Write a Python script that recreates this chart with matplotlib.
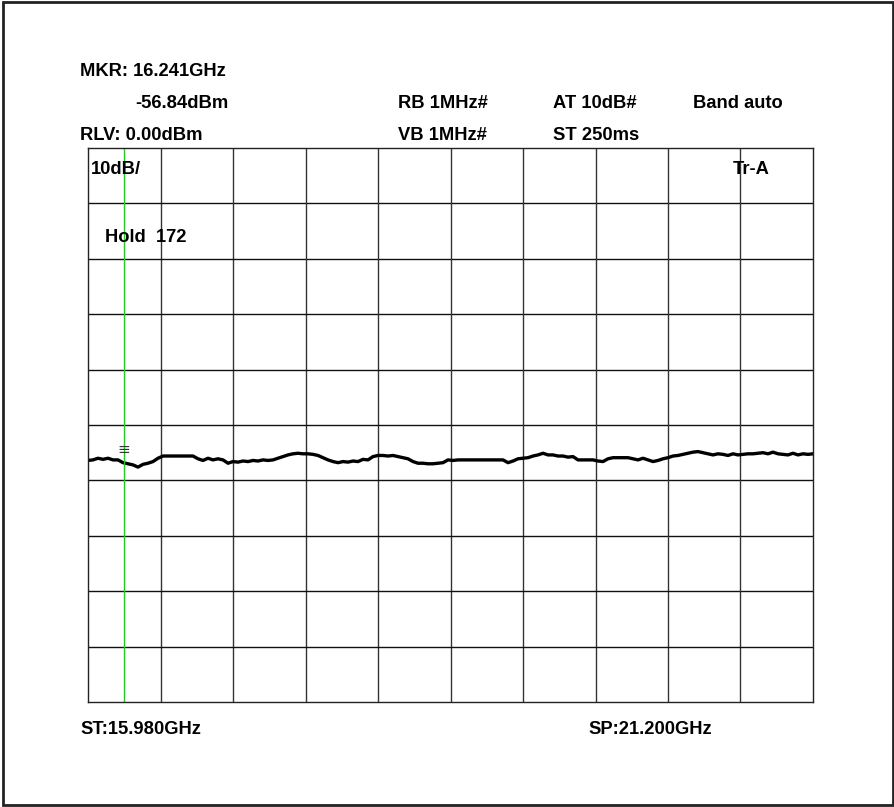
import numpy as np
import matplotlib
matplotlib.use("Agg")
import matplotlib.pyplot as plt
from matplotlib.patches import Rectangle

plt.rcParams['font.family'] = ['Liberation Sans', 'DejaVu Sans']

# sweep settings
f_start = 15.980   # GHz
f_stop = 21.200    # GHz
ref_level = 0.0    # dBm
db_per_div = 10
marker_freq = 16.241
marker_level = -56.84

# trace levels (dBm), read left to right across the sweep
level = [
    -56.4, -56.3, -56.0, -56.2, -56.0, -56.3, -56.3, -56.8, -57.0, -57.2,
    -57.6, -57.1, -56.9, -56.6, -56.0, -55.6, -55.6, -55.6, -55.6, -55.6,
    -55.6, -55.6, -56.1, -56.4, -56.0, -56.3, -56.1, -56.3, -56.9, -56.6,
    -56.7, -56.5, -56.6, -56.4, -56.5, -56.3, -56.4, -56.3, -56.0, -55.7,
    -55.4, -55.2, -55.1, -55.2, -55.2, -55.3, -55.5, -55.9, -56.3, -56.6,
    -56.8, -56.6, -56.7, -56.5, -56.6, -56.2, -56.3, -55.7, -55.5, -55.5,
    -55.6, -55.5, -55.7, -55.9, -56.1, -56.6, -56.9, -56.9, -57.0, -57.0,
    -56.9, -56.8, -56.3, -56.4, -56.3, -56.3, -56.3, -56.3, -56.3, -56.3,
    -56.3, -56.3, -56.3, -56.3, -56.8, -56.5, -56.1, -56.0, -55.9, -55.6,
    -55.4, -55.1, -55.4, -55.4, -55.6, -55.6, -55.8, -55.7, -56.3, -56.3,
    -56.3, -56.3, -56.5, -56.6, -56.1, -55.9, -55.9, -55.9, -55.9, -56.1,
    -56.3, -56.0, -56.3, -56.6, -56.4, -56.1, -55.9, -55.6, -55.5, -55.3,
    -55.1, -54.9, -54.8, -55.0, -55.2, -55.4, -55.2, -55.3, -55.5, -55.2,
    -55.4, -55.3, -55.2, -55.2, -55.1, -55.0, -55.2, -54.9, -55.2, -55.3,
    -55.4, -55.1, -55.4, -55.2, -55.3, -55.2,
]
freq = np.linspace(f_start, f_stop, len(level))

fig = plt.figure(figsize=(8.95, 8.07), dpi=100)
fig.patches.append(Rectangle((3 / 895, 2 / 807), 890 / 895, 803 / 807,
                             transform=fig.transFigure, fill=False,
                             edgecolor='#222222', linewidth=2))

ax = fig.add_axes([88 / 895, 1 - 702 / 807, 725 / 895, 554 / 807])
ax.set_xlim(f_start, f_stop)
ax.set_ylim(ref_level - 10 * db_per_div, ref_level)

# 10 x 10 graticule
for i in range(1, 10):
    ax.axvline(f_start + i * (f_stop - f_start) / 10, color='#333333', lw=1)
    ax.axhline(ref_level - i * db_per_div, color='#111111', lw=1)
for s in ax.spines.values():
    s.set_color('#222222')
    s.set_linewidth(1)
ax.set_xticks([])
ax.set_yticks([])

ax.plot(freq, level, color='black', lw=2.4)
ax.axvline(marker_freq, color='#22cc22', lw=1)
# marker symbol above the trace
ax.annotate("\u2261", (marker_freq, marker_level), xytext=(0, 4),
            textcoords='offset points', ha='center', va='bottom',
            fontsize=11, color='#333333', family='DejaVu Sans')

def label(x, y, s):
    fig.text(x / 895, 1 - y / 807, s, fontsize=13.2, fontweight='bold',
             ha='left', va='center')

label(80, 72, f"MKR: {marker_freq:.3f}GHz")
label(135, 104, f"{marker_level:.2f}dBm")
label(398, 104, "RB 1MHz#")
label(553, 104, "AT 10dB#")
label(693, 104, "Band auto")
label(80, 136, f"RLV: {ref_level:.2f}dBm")
label(398, 136, "VB 1MHz#")
label(553, 136, "ST 250ms")
label(91, 170, "10dB/")
label(733, 170, "Tr-A")
label(105, 237, "Hold  172")
label(80, 730, f"ST:{f_start:.3f}GHz")
label(588, 730, f"SP:{f_stop:.3f}GHz")

fig.savefig("out.png", dpi=100)
